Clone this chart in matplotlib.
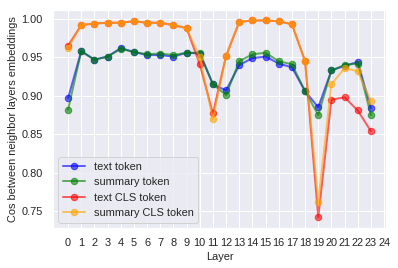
import numpy as np
import matplotlib
matplotlib.use('Agg')
import matplotlib.pyplot as plt
import seaborn as sns

sns.set_theme(style='darkgrid')
plt.rcParams['font.family'] = ['Liberation Sans', 'DejaVu Sans']

layers = list(range(24))

text_token = [0.897, 0.958, 0.947, 0.951, 0.962, 0.957, 0.953, 0.953, 0.951, 0.956,
              0.955, 0.915, 0.907, 0.940, 0.949, 0.951, 0.942, 0.937, 0.906, 0.885,
              0.933, 0.939, 0.944, 0.884]
summary_token = [0.882, 0.958, 0.947, 0.951, 0.961, 0.957, 0.954, 0.955, 0.953, 0.956,
                 0.956, 0.915, 0.901, 0.945, 0.954, 0.956, 0.945, 0.941, 0.906, 0.875,
                 0.933, 0.940, 0.942, 0.875]
text_cls = [0.965, 0.992, 0.994, 0.995, 0.995, 0.997, 0.995, 0.995, 0.992, 0.988,
            0.941, 0.877, 0.952, 0.996, 0.998, 0.998, 0.997, 0.993, 0.945, 0.742,
            0.895, 0.898, 0.881, 0.854]
summary_cls = [0.962, 0.992, 0.994, 0.995, 0.995, 0.997, 0.995, 0.995, 0.992, 0.988,
               0.950, 0.870, 0.952, 0.996, 0.998, 0.998, 0.997, 0.993, 0.945, 0.762,
               0.915, 0.936, 0.932, 0.893]

fig = plt.figure(figsize=(398/72, 268/72), dpi=72)
ax = fig.add_axes([0.133, 0.149, 0.837, 0.814])

style = dict(marker='o', alpha=0.6, linewidth=2, markersize=6.5)
ax.plot(layers, text_token, color='blue', label='text token', **style)
ax.plot(layers, summary_token, color='green', label='summary token', **style)
ax.plot(layers, text_cls, color='red', label='text CLS token', **style)
ax.plot(layers, summary_cls, color='orange', label='summary CLS token', **style)

ax.set_xticks(range(25))
ax.set_ylim(0.728, 1.0117)
ax.set_xlabel('Layer', fontsize=11)
ax.set_ylabel('Cos between neighbor layers embeddings', fontsize=11)
ax.tick_params(labelsize=11, pad=4)
ax.legend(loc='lower left', fontsize=11, handlelength=2.0)

fig.savefig('out.png', dpi=72)
